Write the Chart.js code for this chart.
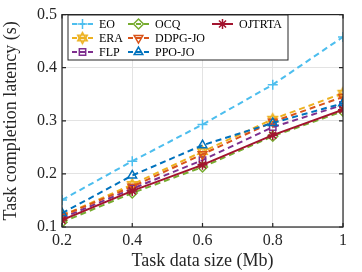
<!DOCTYPE html>
<html>
<head>
<meta charset="utf-8">
<script src="https://cdn.jsdelivr.net/npm/chart.js@4"></script>
<style>
  html, body { margin: 0; padding: 0; background: #fff; }
  #wrap { width: 362px; height: 272px; position: relative; }
</style>
</head>
<body>
<div id="wrap"><canvas id="c" width="362" height="272"></canvas></div>
<script>
// data
const dataSizes = [0.2, 0.4, 0.6, 0.8, 1];
const eoVals     = [0.151, 0.224, 0.293, 0.368, 0.458];
const eraVals    = [0.121, 0.180, 0.242, 0.303, 0.352];
const flpVals    = [0.117, 0.172, 0.226, 0.288, 0.330];
const ocqVals    = [0.109, 0.164, 0.213, 0.271, 0.318];
const ddpgVals   = [0.121, 0.176, 0.237, 0.298, 0.345];
const ppoVals    = [0.126, 0.197, 0.254, 0.296, 0.333];
const ojtrtaVals = [0.113, 0.168, 0.217, 0.273, 0.321];
const yTicks = [0.1, 0.2, 0.3, 0.4, 0.5];
const xLabel = 'Task data size (Mb)';
const yLabel = 'Task completion latency (s)';

const serif = '"Liberation Serif", "DejaVu Serif", serif';

// hexagram marker for ERA
function hexagram(color, r) {
  const cv = document.createElement('canvas');
  const s = Math.ceil(r * 2 + 4);
  cv.width = s; cv.height = s;
  const g = cv.getContext('2d');
  g.strokeStyle = color; g.lineWidth = 1.5;
  const cx = s / 2, cy = s / 2;
  for (let k = 0; k < 2; k++) {
    g.beginPath();
    for (let i = 0; i < 3; i++) {
      const a = -Math.PI / 2 + k * Math.PI + i * 2 * Math.PI / 3;
      const px = cx + r * Math.cos(a), py = cy + r * Math.sin(a);
      if (i === 0) g.moveTo(px, py); else g.lineTo(px, py);
    }
    g.closePath();
    g.stroke();
  }
  return cv;
}

function pts(vals) {
  return vals.map((v, i) => ({ x: dataSizes[i], y: v }));
}

function series(label, vals, color, style, dashed, extra) {
  return Object.assign({
    label: label,
    data: pts(vals),
    borderColor: color,
    backgroundColor: 'rgba(0,0,0,0)',
    pointBorderColor: color,
    pointBackgroundColor: 'rgba(0,0,0,0)',
    borderWidth: 2,
    borderDash: dashed ? [6, 4] : [],
    pointStyle: style,
    pointRadius: 5,
    pointBorderWidth: 1.5,
    fill: false,
    tension: 0
  }, extra || {});
}

const datasets = [
  series('EO', eoVals, '#4DBEEE', 'cross', true),
  series('ERA', eraVals, '#EDB120', hexagram('#EDB120', 5.5), true),
  series('FLP', flpVals, '#7E2F8E', 'rect', true, { pointRadius: 4.5 }),
  series('OCQ', ocqVals, '#77AC30', 'rectRot', true),
  series('DDPG-JO', ddpgVals, '#D95319', 'triangle', true, { pointRotation: 180 }),
  series('PPO-JO', ppoVals, '#0072BD', 'triangle', true),
  series('OJTRTA', ojtrtaVals, '#A2142F', 'star', false)
];
// draw OJTRTA on top
datasets.forEach((d, i) => { d.order = d.label === 'OJTRTA' ? 0 : 10 - i; });

// frame, inward ticks and boxed legend like the reference
const framePlugin = {
  id: 'frame',
  afterDraw(chart) {
    const { ctx, chartArea: a } = chart;
    ctx.save();
    ctx.strokeStyle = '#262626';
    ctx.lineWidth = 1.2;
    ctx.strokeRect(a.left, a.top, a.right - a.left, a.bottom - a.top);
    ctx.beginPath();
    yTicks.forEach(t => {
      const y = chart.scales.y.getPixelForValue(t);
      ctx.moveTo(a.left, y); ctx.lineTo(a.left + 4, y);
      ctx.moveTo(a.right, y); ctx.lineTo(a.right - 4, y);
    });
    dataSizes.forEach(t => {
      const x = chart.scales.x.getPixelForValue(t);
      ctx.moveTo(x, a.bottom); ctx.lineTo(x, a.bottom - 4);
      ctx.moveTo(x, a.top); ctx.lineTo(x, a.top + 4);
    });
    ctx.stroke();

    // legend
    const bx = 68, by = 15, bw = 220, bh = 45;
    ctx.fillStyle = '#fff';
    ctx.fillRect(bx, by, bw, bh);
    ctx.strokeStyle = '#262626';
    ctx.lineWidth = 1;
    ctx.strokeRect(bx, by, bw, bh);
    const cols = [72, 128, 212];
    const rows = [24, 38, 52];
    ctx.textBaseline = 'middle';
    chart.data.datasets.forEach((d, i) => {
      const col = Math.floor(i / 3), row = i % 3;
      const x0 = cols[col], y0 = rows[row];
      ctx.strokeStyle = d.borderColor;
      ctx.lineWidth = 2;
      ctx.setLineDash(d.borderDash.length ? [5, 3] : []);
      ctx.beginPath(); ctx.moveTo(x0, y0); ctx.lineTo(x0 + 21, y0); ctx.stroke();
      ctx.setLineDash([]);
      ctx.fillStyle = 'rgba(0,0,0,0)';
      ctx.lineWidth = 1.5;
      Chart.helpers.drawPoint(ctx, {
        pointStyle: d.pointStyle,
        rotation: d.pointRotation || 0,
        radius: d.pointRadius,
        borderWidth: 1.5
      }, x0 + 10.5, y0);
      ctx.fillStyle = '#000';
      ctx.font = '12px ' + serif;
      ctx.fillText(d.label, x0 + 27, y0 + 0.5);
    });
    ctx.restore();
  }
};

const chart = new Chart(document.getElementById('c'), {
  type: 'line',
  data: { datasets: datasets },
  options: {
    responsive: false,
    animation: false,
    layout: { padding: { top: 9, right: 19, left: 0, bottom: 0 } },
    plugins: { legend: { display: false }, tooltip: { enabled: false } },
    scales: {
      x: {
        type: 'linear',
        min: 0.2, max: 1,
        afterFit(s) { s.height = 45; },
        afterBuildTicks(s) { s.ticks = dataSizes.map(v => ({ value: v })); },
        grid: { color: '#e3e3e3', lineWidth: 1, drawTicks: false },
        border: { display: false },
        ticks: {
          color: '#262626',
          font: { family: serif, size: 16 },
          padding: 4,
          callback: v => String(Number(v.toFixed(1)))
        },
        title: {
          display: true, text: xLabel, color: '#262626',
          font: { family: serif, size: 18 }, padding: { top: 0, bottom: 0 }
        }
      },
      y: {
        min: 0.1, max: 0.5,
        afterFit(s) { s.width = 62; },
        afterBuildTicks(s) { s.ticks = yTicks.map(v => ({ value: v })); },
        grid: { color: '#e3e3e3', lineWidth: 1, drawTicks: false },
        border: { display: false },
        ticks: {
          color: '#262626',
          font: { family: serif, size: 16 },
          padding: 5,
          callback: v => v.toFixed(1)
        },
        title: {
          display: true, text: yLabel, color: '#262626',
          font: { family: serif, size: 18 }, padding: { top: 0, bottom: 1 }
        }
      }
    }
  },
  plugins: [framePlugin]
});
</script>
</body>
</html>
